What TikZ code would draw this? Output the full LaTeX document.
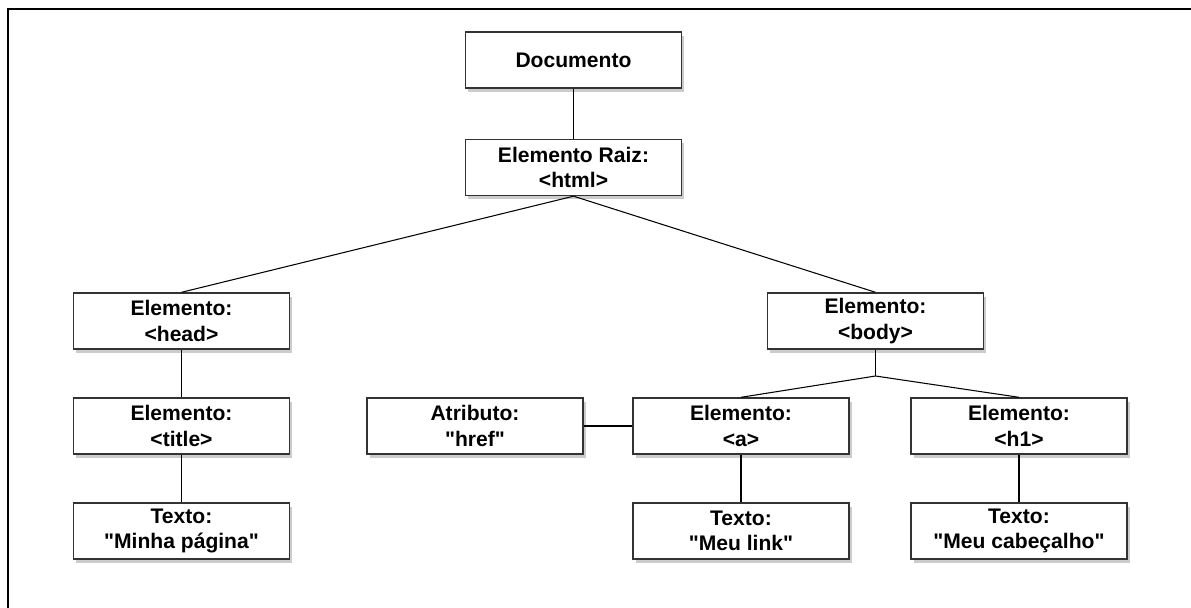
\documentclass[tikz,border=0pt]{standalone}
\usepackage{fontspec}
\setmainfont{Liberation Sans}[Ligatures=TeXOff]
\usetikzlibrary{shadows}

\begin{document}
\begin{tikzpicture}[x=0.02cm,y=-0.02cm,thick,dom node/.style={rectangle,draw=black!80,line width=0.8pt,fill=white,minimum width=4.32cm,minimum height=1.12cm,inner sep=0pt,align=center,font=\bfseries\fontsize{12}{14.5}\selectfont,drop shadow={opacity=0.4,shadow xshift=1.5pt,shadow yshift=-2.2pt}}]
  \useasboundingbox (0,0) rectangle (1191,608);
  \draw[line width=1.2pt] (8,608) -- (8,9) -- (1191,9);

  \node[dom node] (doc) at (573.5,60) {Documento};
  \node[dom node] (html) at (573.5,167.5) {Elemento Raiz:\\<html>};
  \node[dom node] (head) at (181.5,321) {Elemento:\\<head>};
  \node[dom node] (body) at (875.5,321) {Elemento:\\<body>};
  \node[dom node] (title) at (181.5,426) {Elemento:\\<title>};
  \node[dom node] (href) at (475,426) {Atributo:\\"href"};
  \node[dom node] (a) at (741,426) {Elemento:\\<a>};
  \node[dom node] (h1) at (1019,426) {Elemento:\\<h1>};
  \node[dom node] (txt1) at (181.5,531) {Texto:\\"Minha página"};
  \node[dom node] (txt2) at (741,531) {Texto:\\"Meu link"};
  \node[dom node] (txt3) at (1019,531) {Texto:\\"Meu cabeçalho"};
  \coordinate (split) at (875.5,376);

\path[draw=black,line width=0.6pt]
  (doc) edge (html)
  (html.south) edge (head.north)
  (html.south) edge (body.north)
  (head) edge (title)
  (title) edge (txt1)
  (body) edge (split)
  (split) edge (a.north)
  (split) edge (h1.north)
  (href) edge (a)
  (a) edge (txt2)
  (h1) edge (txt3)
;
\end{tikzpicture}
\end{document}
